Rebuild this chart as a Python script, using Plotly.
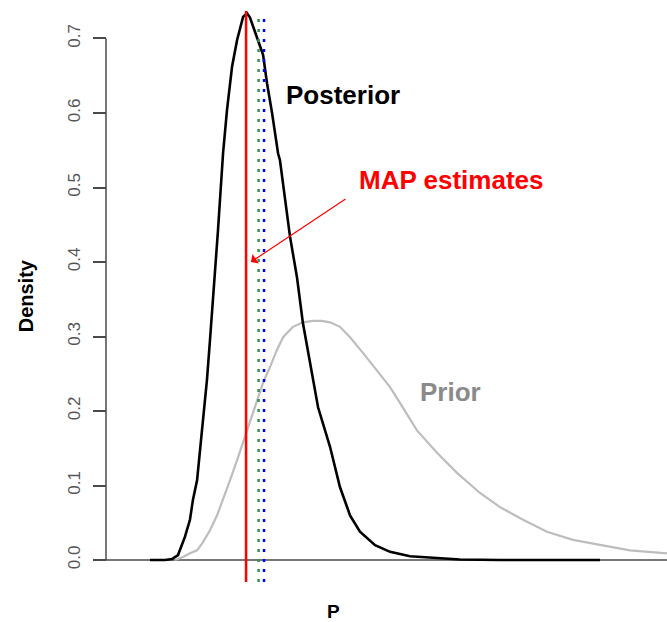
import plotly.graph_objects as go

# Posterior density (black)
post_x = [0.0235, 0.0316, 0.0353, 0.0385, 0.0422, 0.0449, 0.0465, 0.0487, 0.0503, 0.0519,
          0.0540, 0.0556, 0.0572, 0.0599, 0.0626, 0.0647, 0.0674, 0.0701, 0.0733, 0.0754,
          0.0770, 0.0813, 0.0840, 0.0861, 0.0888, 0.0920, 0.0930, 0.0984, 0.1021, 0.1053,
          0.1102, 0.1134, 0.1198, 0.1251, 0.1305, 0.1358, 0.1439, 0.1519, 0.1626, 0.1733,
          0.1893, 0.2107, 0.2642]
post_y = [0.0, 0.0, 0.0013, 0.0067, 0.031, 0.054, 0.081, 0.107, 0.148, 0.188,
          0.242, 0.295, 0.349, 0.443, 0.546, 0.604, 0.662, 0.698, 0.729, 0.734,
          0.728, 0.698, 0.678, 0.640, 0.600, 0.546, 0.537, 0.434, 0.380, 0.318,
          0.251, 0.205, 0.152, 0.098, 0.060, 0.038, 0.020, 0.011, 0.005, 0.003,
          0.0007, 0.0, 0.0]

# Prior density (grey)
prior_x = [0.0369, 0.0412, 0.0449, 0.0487, 0.0519, 0.0556, 0.0594, 0.0626, 0.0663, 0.0701,
           0.0754, 0.0807, 0.0840, 0.0877, 0.0914, 0.0947, 0.1000, 0.1053, 0.1107, 0.1155,
           0.1198, 0.1251, 0.1305, 0.1374, 0.1449, 0.1519, 0.1572, 0.1663, 0.1770, 0.1877,
           0.2000, 0.2107, 0.2230, 0.2358, 0.2497, 0.2642, 0.2802, 0.3000]
prior_y = [0.0, 0.004, 0.009, 0.013, 0.024, 0.040, 0.060, 0.081, 0.107, 0.134,
           0.174, 0.215, 0.238, 0.259, 0.282, 0.299, 0.313, 0.319, 0.321, 0.321,
           0.319, 0.313, 0.299, 0.278, 0.255, 0.232, 0.211, 0.174, 0.144, 0.117,
           0.090, 0.071, 0.054, 0.038, 0.027, 0.020, 0.013, 0.009]

# MAP estimates (vertical lines)
map_values = [0.0749, 0.0816, 0.0845]
map_colors = ["#ff0000", "#3a8f5a", "#0000ff"]
map_dash = ["solid", "3px,7px", "3px,7px"]

y_ticks = [0.0, 0.1, 0.2, 0.3, 0.4, 0.5, 0.6, 0.7]
y_ticktext = ["0.0", "0.1", "0.2", "0.3", "0.4", "0.5", "0.6", "0.7"]

FONT = "Liberation Sans, Arial, sans-serif"

fig = go.Figure()
fig.add_trace(go.Scatter(x=prior_x, y=prior_y, mode="lines",
                         line=dict(color="#bdbdbd", width=2.2), hoverinfo="skip"))
fig.add_trace(go.Scatter(x=post_x, y=post_y, mode="lines",
                         line=dict(color="#000000", width=2.6), hoverinfo="skip"))

shapes = []
# baseline at y=0 across plot
shapes.append(dict(type="line", xref="paper", yref="y", x0=0, x1=1, y0=0, y1=0,
                   line=dict(color="#4a4a4a", width=1.5), layer="below"))
# y axis line from 0 to 0.7
shapes.append(dict(type="line", xref="x", yref="y", x0=0, x1=0, y0=y_ticks[0], y1=y_ticks[-1],
                   line=dict(color="#4a4a4a", width=1.5)))
for v, c, d in zip(map_values, map_colors, map_dash):
    shapes.append(dict(type="line", xref="x", yref="paper", x0=v, x1=v,
                       y0=0, y1=1 if d == "solid" else 0.99,
                       line=dict(color=c, width=2.5, dash=d)))

annotations = [
    dict(text="<b>Posterior</b>", x=0.1267, y=0.624, xref="x", yref="y", showarrow=False,
         font=dict(family=FONT, size=26, color="#000000")),
    dict(text="<b>MAP estimates</b>", x=0.1845, y=0.510, xref="x", yref="y", showarrow=False,
         font=dict(family=FONT, size=26, color="#ff0000")),
    dict(text="<b>Prior</b>", x=0.1840, y=0.2255, xref="x", yref="y", showarrow=False,
         font=dict(family=FONT, size=26, color="#8a8a8a")),
    dict(text="", x=0.0775, y=0.400, xref="x", yref="y", ax=0.1289, ay=0.486,
         axref="x", ayref="y", showarrow=True, arrowhead=1, arrowsize=1.6,
         arrowwidth=1.2, arrowcolor="#ff0000"),
    dict(text="<b>Density</b>", x=-0.1167, y=0.354, xref="paper", yref="y", textangle=-90,
         xanchor="center", yanchor="middle", showarrow=False,
         font=dict(family=FONT, size=20, color="#000000")),
    dict(text="<b>P</b>", x=0.1219, y=-0.0525, xref="x", yref="paper",
         xanchor="center", yanchor="middle", showarrow=False,
         font=dict(family=FONT, size=19, color="#000000")),
]

fig.update_layout(
    width=667, height=622,
    margin=dict(l=93, r=0, t=11, b=40),
    paper_bgcolor="white", plot_bgcolor="white",
    showlegend=False,
    shapes=shapes,
    annotations=annotations,
    xaxis=dict(range=[-13 / 1870, 561 / 1870], showgrid=False, zeroline=False,
               showticklabels=False, ticks="", showline=False),
    yaxis=dict(range=[-0.0295, 0.7369], anchor="free", position=13 / 574,
               tickvals=y_ticks, ticktext=y_ticktext, ticks="outside", ticklen=13,
               tickwidth=1.5, tickcolor="#4a4a4a", tickangle=-90,
               ticklabelstandoff=6,
               tickfont=dict(family=FONT, size=17, color="#555555"),
               showgrid=False, zeroline=False, showline=False),
)

fig.write_html("out.html")
